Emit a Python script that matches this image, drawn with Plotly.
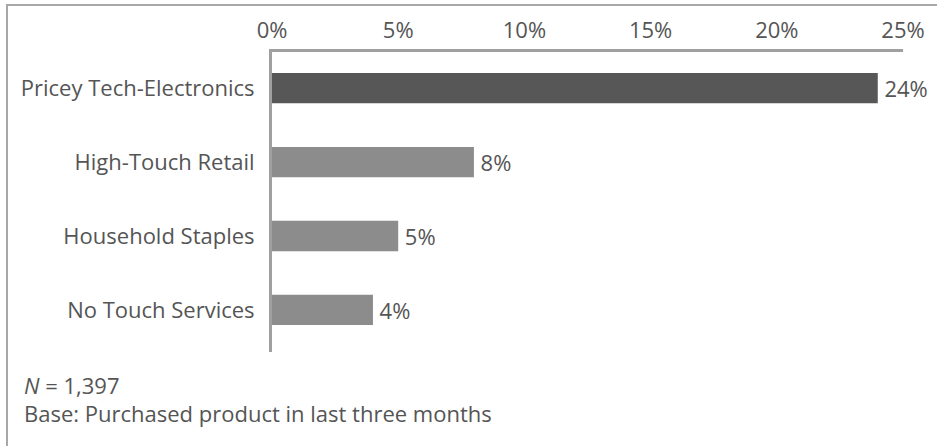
import plotly.graph_objects as go

categories = ["Pricey Tech-Electronics", "High-Touch Retail", "Household Staples", "No Touch Services"]
shares = [24, 8, 5, 4]
bar_colors = ["#575757", "#8c8c8c", "#8c8c8c", "#8c8c8c"]
tick_values = [0, 5, 10, 15, 20, 25]
tick_labels = ["0%", "5%", "10%", "15%", "20%", "25%"]
note_n = "<i>N</i> = 1,397"
note_base = "Base: Purchased product in last three months"

W, H = 937, 446
L, R, T, B = 272, 34, 52, 94
pw, ph = W - L - R, H - T - B

def px_x(x):
    return (x - L) / pw

def px_y(y):
    return (H - B - y) / ph

text_color = "#555555"
font_family = "Open Sans, Liberation Sans, Arial, sans-serif"
fs = 22

fig = go.Figure(
    go.Bar(
        x=shares,
        y=categories,
        orientation="h",
        marker=dict(color=bar_colors, line=dict(width=0)),
        width=0.41,
        text=[f"\u2009{v}%" for v in shares],
        textposition="outside",
        textfont=dict(size=fs, color=text_color, family=font_family),
        cliponaxis=False,
    )
)

fig.update_layout(
    width=W,
    height=H,
    margin=dict(l=L, r=R, t=T, b=B),
    paper_bgcolor="white",
    plot_bgcolor="white",
    showlegend=False,
    font=dict(family=font_family, color=text_color, size=fs),
    xaxis=dict(
        side="top",
        range=[0, 25],
        tickvals=tick_values,
        ticktext=tick_labels,
        showgrid=False,
        zeroline=False,
        showline=True,
        linecolor="#a0a0a0",
        linewidth=3,
        ticks="",
        ticklabelstandoff=2,
        tickfont=dict(size=fs, color=text_color),
    ),
    yaxis=dict(
        categoryorder="array",
        categoryarray=categories,
        range=[3.57, -0.49],
        showgrid=False,
        zeroline=False,
        showline=True,
        linecolor="#a0a0a0",
        linewidth=3,
        ticks="",
        ticklabelstandoff=10,
        tickfont=dict(size=fs, color=text_color),
    ),
    shapes=[
        dict(type="line", xref="paper", yref="paper",
             x0=px_x(6), x1=px_x(937), y0=px_y(5), y1=px_y(5),
             line=dict(color="#a8a8a8", width=2)),
        dict(type="line", xref="paper", yref="paper",
             x0=px_x(7), x1=px_x(7), y0=px_y(5), y1=px_y(446),
             line=dict(color="#a8a8a8", width=2)),
    ],
    annotations=[
        dict(text=note_n, xref="paper", yref="paper", x=px_x(22), y=px_y(385),
             xanchor="left", yanchor="middle", showarrow=False,
             font=dict(size=fs, color=text_color)),
        dict(text=note_base, xref="paper", yref="paper", x=px_x(22), y=px_y(413),
             xanchor="left", yanchor="middle", showarrow=False,
             font=dict(size=fs, color=text_color)),
    ],
)

fig.write_html("out.html")
